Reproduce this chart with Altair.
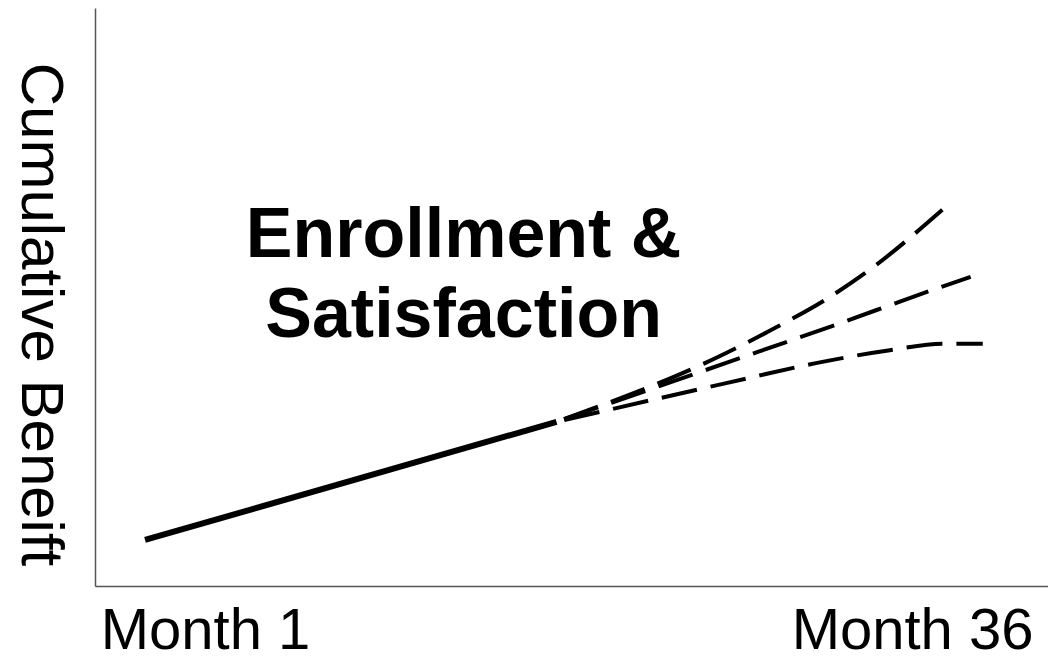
import altair as alt
import pandas as pd

# Solid (actual) segment
solid_month = [-1.97, 18.4]
solid_value = [7.96, 28.4]

# Projected (dashed) scenarios
upper_month = [18.4, 26.8, 29.3, 31.7, 33.9, 37.5]
upper_value = [28.4, 40.3, 44.8, 49.5, 54.7, 65.1]
middle_month = [18.4, 26.8, 31.9, 37.0, 38.9]
middle_value = [28.4, 38.6, 44.8, 51.2, 53.5]
lower_month = [18.4, 26.8, 31.3, 34.9, 37.6, 39.5]
lower_value = [28.4, 35.1, 38.6, 40.8, 41.9, 41.9]

tick_months = [1, 36]
tick_labels = ["Month 1", "Month 36"]

ann_text = ["Enrollment &", "Satisfaction"]
ann_month = [13.8]
ann_value = [56.9]

y_title = "Cumulative Beneift"

FONT = "Liberation Sans, Arial, sans-serif"

solid_df = pd.DataFrame({"month": solid_month, "value": solid_value})
rows = []
for name, ms, vs in [("upper", upper_month, upper_value),
                     ("middle", middle_month, middle_value),
                     ("lower", lower_month, lower_value)]:
    for i, (m, v) in enumerate(zip(ms, vs)):
        rows.append({"series": name, "month": m, "value": v, "order": i})
dash_df = pd.DataFrame(rows)
ann_df = pd.DataFrame({"text": ["\n".join(ann_text)], "month": ann_month, "value": ann_value})

label_expr = " : ".join(
    [f"datum.value == {m} ? '{l}'" for m, l in zip(tick_months, tick_labels)]
) + " : ''"

x_scale = alt.Scale(domain=[-4.446, 42.73], nice=False, zero=False)
y_scale = alt.Scale(domain=[0, 100], nice=False, zero=False)

x_axis = alt.Axis(
    values=tick_months, labelExpr=label_expr, title=None,
    ticks=False, tickSize=0, grid=False, domain=True,
    domainColor="#555555", domainWidth=1.5,
    labelFont=FONT, labelFontSize=58, labelColor="black",
    labelBaseline="alphabetic", labelPadding=62, labelAlign="center",
    labelOverlap=False, labelFlush=False, labelLimit=0,
)
y_axis = alt.Axis(
    title=y_title, labels=False, ticks=False, tickSize=0, grid=False,
    domain=True, domainColor="#555555", domainWidth=1.5,
    titleFont=FONT, titleFontSize=60, titleFontWeight="normal", titleColor="black",
    titleAngle=90, titleAlign="center", titleBaseline="alphabetic",
    titleX=-74, titleY=306, titleLimit=0,
)

solid = alt.Chart(solid_df).mark_line(
    color="black", strokeWidth=6, strokeCap="butt"
).encode(
    x=alt.X("month:Q", scale=x_scale, axis=x_axis),
    y=alt.Y("value:Q", scale=y_scale, axis=y_axis),
)

dashed = alt.Chart(dash_df).mark_line(
    color="black", strokeWidth=4, strokeDash=[36, 14], strokeDashOffset=-8,
    interpolate="monotone", strokeCap="butt"
).encode(
    x=alt.X("month:Q", scale=x_scale),
    y=alt.Y("value:Q", scale=y_scale),
    detail="series:N",
    order="order:Q",
)

ann = alt.Chart(ann_df).mark_text(
    font=FONT, fontSize=70, fontWeight="bold", color="black",
    align="center", baseline="alphabetic", lineBreak="\n", lineHeight=80,
).encode(
    x=alt.X("month:Q", scale=x_scale),
    y=alt.Y("value:Q", scale=y_scale),
    text="text:N",
)

chart = alt.layer(solid, dashed, ann).properties(
    width=953, height=578,
    autosize=alt.AutoSizeParams(type="none"),
    padding={"left": 87, "top": 0, "right": 0, "bottom": 76},
    background="white",
).configure_view(stroke=None)

chart.save("out.html", embed_options={"renderer": "svg", "actions": False})
